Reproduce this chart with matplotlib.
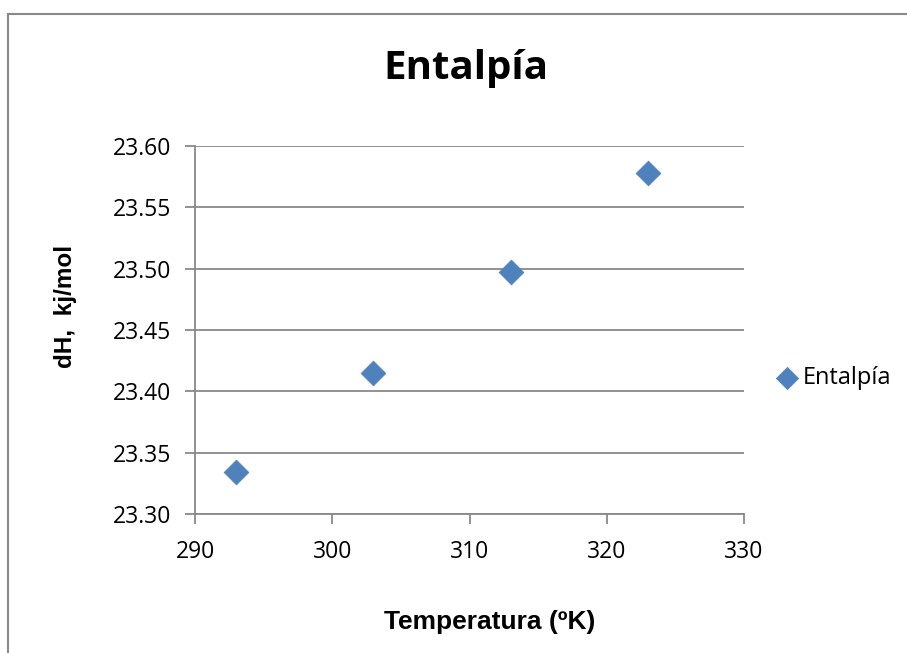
import matplotlib.pyplot as plt
from matplotlib.lines import Line2D

# datos
temperatura = [293, 303, 313, 323]
entalpia = [23.334, 23.415, 23.497, 23.578]

x_ticks = [290, 300, 310, 320, 330]
y_ticks = [23.30, 23.35, 23.40, 23.45, 23.50, 23.55, 23.60]

azul = '#4F81BD'
gris = '#898989'

fig = plt.figure(figsize=(9.07, 6.53), dpi=100)
ax = fig.add_axes([195/907, 139/653, 549/907, 368/653])

ax.scatter(temperatura, entalpia, marker='D', s=160, color=azul,
           edgecolors=azul, linewidths=0.5, zorder=3, label='Entalpía')

ax.set_xlim(290, 330)
ax.set_ylim(23.30, 23.60)
ax.set_xticks(x_ticks)
ax.set_yticks(y_ticks)
ax.set_yticklabels([f'{v:.2f}' for v in y_ticks])
ax.grid(axis='y', color=gris, linewidth=1.3)
ax.set_axisbelow(True)

for s in ['top', 'right']:
    ax.spines[s].set_visible(False)
for s in ['left', 'bottom']:
    ax.spines[s].set_color(gris)
    ax.spines[s].set_linewidth(1.3)

ax.tick_params(axis='both', colors=gris, length=7, width=1.3,
               labelcolor='black', labelsize=16.5, direction='out')
for lab in ax.get_xticklabels() + ax.get_yticklabels():
    lab.set_family('Open Sans')
ax.tick_params(axis='x', pad=12)
ax.tick_params(axis='y', pad=10)

ax.set_xlabel('Temperatura (ºK)', fontsize=19, fontweight='bold',
              family='Liberation Sans', va='center')
ax.set_ylabel('dH,  kj/mol', fontsize=17.5, fontweight='bold',
              family='Liberation Sans', va='center')
ax.xaxis.set_label_coords(0.536, -0.293)
ax.yaxis.set_label_coords(-0.235, 0.565)

fig.text(466/907, 1 - 68/653, 'Entalpía', ha='center', va='center',
         fontsize=29, fontweight='bold', family='Open Sans')

leg = ax.legend(loc='center left', bbox_to_anchor=(1.062, 0.37), frameon=False,
                prop={'family': 'Open Sans', 'size': 17},
                handlelength=0.8, handletextpad=0.25, borderaxespad=0,
                borderpad=0, scatterpoints=1, markerscale=0.9)

# marco del grafico (izquierda y arriba)
fig.add_artist(Line2D([8/907, 8/907], [0, 1 - 14/653], color=gris,
                      linewidth=1.5, transform=fig.transFigure))
fig.add_artist(Line2D([8/907, 1], [1 - 14/653, 1 - 14/653], color=gris,
                      linewidth=1.5, transform=fig.transFigure))

fig.savefig('out.png', dpi=100)
